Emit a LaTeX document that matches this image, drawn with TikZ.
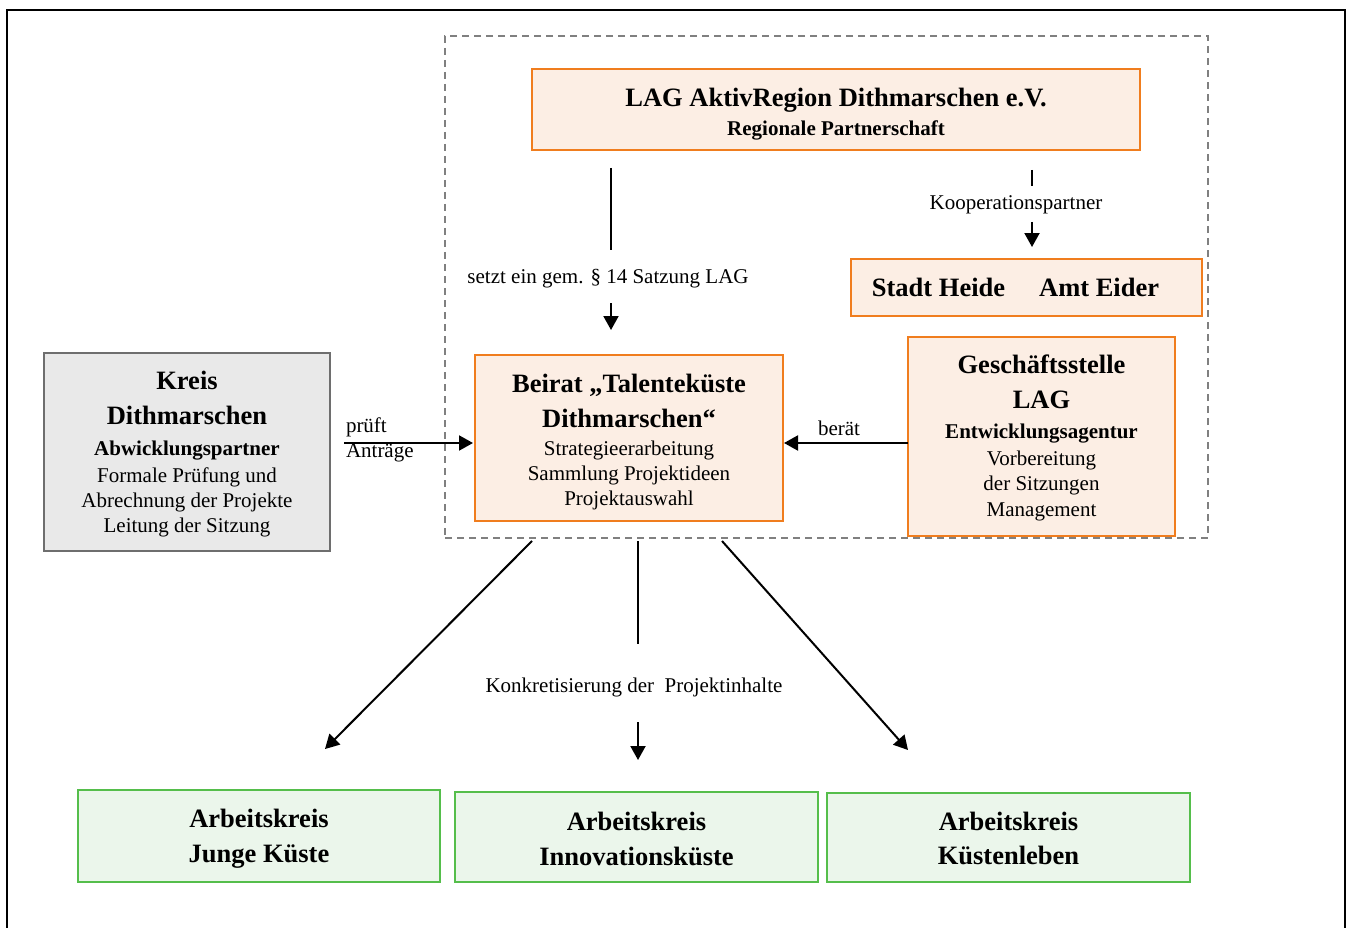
\documentclass[tikz,border=0pt]{standalone}
\usepackage{fontspec}
\setmainfont{Liberation Serif}
\usetikzlibrary{arrows.meta}
\definecolor{orbord}{RGB}{240,125,30}
\definecolor{orfill}{RGB}{252,238,228}
\definecolor{grbord}{RGB}{85,190,75}
\definecolor{grfill}{RGB}{235,246,235}
\definecolor{gybord}{RGB}{110,110,110}
\definecolor{gyfill}{RGB}{233,233,233}
\definecolor{dashgray}{RGB}{128,128,128}
\newcommand\fBig{\fontsize{26.5}{35}\selectfont\bfseries}
\newcommand\fSmB{\fontsize{21}{24.5}\selectfont\bfseries}
\newcommand\fSm{\fontsize{21}{24.5}\selectfont}
\newcommand\tstrut[1]{\rule{0pt}{#1pt}}
\begin{document}
\begin{tikzpicture}[x=1pt,y=-1pt,
  every node/.style={inner sep=0pt, outer sep=0pt, font=\fSm},
  orbox/.style={draw=orbord, fill=orfill, line width=2pt, align=center},
  grbox/.style={draw=grbord, fill=grfill, line width=2pt, align=center},
  gybox/.style={draw=gybord, fill=gyfill, line width=2pt, align=center},
  lbl/.style={font=\fSm},
  ln/.style={line width=2pt},
  arr/.style={line width=2pt, -{Triangle[length=14pt,width=15pt]}}]
\useasboundingbox (0,0) rectangle (1349,928);
% outer frame
\draw[line width=2.5pt] (7,930) -- (7,10) -- (1345,10) -- (1345,930);
% dashed frame
\node[draw=dashgray, line width=1.5pt, dash pattern=on 7pt off 5pt,
      minimum width=763pt, minimum height=502pt] (frame) at (826.5,287) {};
% boxes
\node[orbox, minimum width=608pt, minimum height=81pt] (lag) at (836,109.5)
  {{\fBig\tstrut{28}LAG AktivRegion Dithmarschen e.V.}\\[4.5pt]{\fSmB Regionale Partnerschaft}};
\node[orbox, minimum width=351pt, minimum height=57pt] (stadt) at (1026.5,287.5)
  {\fBig Stadt Heide\hspace*{34pt}Amt Eider\hspace*{22pt}};
\node[gybox, minimum width=286pt, minimum height=198pt] (kreis) at (187,452)
  {{\fBig\tstrut{22}Kreis}\\[10.5pt]{\fBig Dithmarschen}\\[6.5pt]{\fSmB Abwicklungspartner}\\[2.5pt]
   Formale Prüfung und\\[0.5pt]Abrechnung der Projekte\\[0.5pt]Leitung der Sitzung};
\node[orbox, minimum width=308pt, minimum height=166pt] (beirat) at (629,438)
  {{\fBig\tstrut{26}Beirat „Talenteküste}\\[10.5pt]{\fBig Dithmarschen“}\\[3.5pt]
   Strategieerarbeitung\\[0.5pt]Sammlung Projektideen\\Projektauswahl};
\node[orbox, minimum width=267pt, minimum height=199pt] (gs) at (1041.5,436.5)
  {{\fBig\tstrut{22.5}Geschäftsstelle}\\[10.5pt]{\fBig LAG}\\[5.5pt]{\fSmB Entwicklungsagentur}\\[2.5pt]
   Vorbereitung\\[0.5pt]der Sitzungen\\[1.5pt]Management};
\node[grbox, minimum width=362pt, minimum height=92pt] (ak1) at (259,836)
  {{\fBig\tstrut{24}Arbeitskreis}\\[10pt]{\fBig Junge Küste}};
\node[grbox, minimum width=363pt, minimum height=90pt] (ak2) at (636.5,837)
  {{\fBig\tstrut{22}Arbeitskreis}\\[10pt]{\fBig Innovationsküste}};
\node[grbox, minimum width=363pt, minimum height=89pt] (ak3) at (1008.5,837.5)
  {{\fBig\tstrut{20}Arbeitskreis}\\[10pt]{\fBig Küstenleben}};
% labels
\node[lbl] (setzt) at (608,279) {setzt ein gem. § 14 Satzung LAG};
\node[lbl] (koop) at (1016,205) {Kooperationspartner};
\node[lbl, anchor=base west] (pruft) at (346,432) {prüft};
\node[lbl, anchor=base west] (antr) at (346,457) {Anträge};
\node[lbl] (berat) at (839,428) {berät};
\node[lbl] (konk) at (634,687) {Konkretisierung der\ \ Projektinhalte};
% LAG -> Beirat
\coordinate (s1) at (611,168);
\coordinate (s2) at (611,250);
\coordinate (s3) at (611,303);
\draw[ln] (s1) -- (s2);
\draw[arr, shorten >=25pt] (s3) -- (s3 |- beirat.north);
% Kooperation
\coordinate (k1) at (1032,170);
\coordinate (k2) at (1032,186);
\coordinate (k3) at (1032,222);
\draw[ln] (k1) -- (k2);
\draw[arr, shorten >=12pt] (k3) -- (k3 |- stadt.north);
% horizontal arrows
\coordinate (hy) at (0,443);
\draw[arr, shorten <=14pt, shorten >=2pt] (kreis.east |- hy) -- (beirat.west |- hy);
\draw[arr, shorten >=1pt] (gs.west |- hy) -- (beirat.east |- hy);
% arrows to working groups
\coordinate (b1) at (532,541);
\coordinate (e1) at (325,749);
\coordinate (b3) at (722,541);
\coordinate (e3) at (908,750);
\draw[arr] (b1) -- (e1);
\draw[arr] (b3) -- (e3);
\coordinate (m1) at (638,541);
\coordinate (m2) at (638,644);
\coordinate (m3) at (638,722);
\draw[ln] (m1) -- (m2);
\draw[arr, shorten >=32pt] (m3) -- (m3 |- ak2.north);
\end{tikzpicture}
\end{document}
